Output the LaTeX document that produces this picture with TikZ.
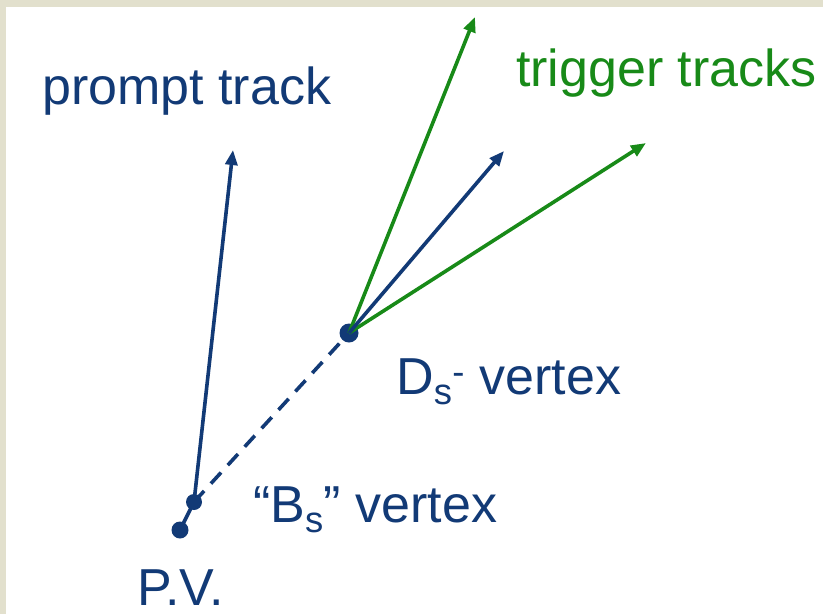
\documentclass[tikz,border=0pt]{standalone}
\usepackage{fontspec}
\setmainfont{Liberation Sans}
\usepackage{xcolor}
\usetikzlibrary{arrows.meta,positioning}
\definecolor{trackblue}{RGB}{18,58,118}
\definecolor{trackgreen}{RGB}{24,138,24}
\definecolor{framebg}{RGB}{226,224,205}

\tikzset{
  vtx/.style={circle,fill=trackblue,inner sep=0pt,minimum size=#1},
  trk/.style={line width=3.6pt,-{Triangle[length=15pt,width=12pt]}},
  lbl/.style={font=\fontsize{52}{60}\selectfont,inner sep=0pt,anchor=base west}
}

\begin{document}
\begin{tikzpicture}[x=1pt,y=-1pt]
  % frame
  \fill[framebg] (0,0) rectangle (823,614);
  \fill[white] (6,7) rectangle (823,614);
  \useasboundingbox (0,0) rectangle (823,614);
  % vertices
  \node[vtx=17pt] (pv) at (180,530) {};
  \node[vtx=16pt] (bs) at (194,502) {};
  \node[vtx=19pt] (ds) at (349,333) {};
  % track ends
  \coordinate (promptend) at (233,150);
  \coordinate (trigA) at (475,17);
  \coordinate (trigB) at (646,143);
  \coordinate (slowend) at (504,151);
  % tracks
  \draw[trackblue,line width=3.6pt] (pv.center) -- (bs.center);
  \draw[trackblue,line width=3.6pt,dash pattern=on 15pt off 10pt] (bs.center) -- (ds.center);
  \draw[trk,trackblue] (bs.center) -- (promptend);
  \draw[trk,trackgreen] (ds.center) -- (trigA);
  \draw[trk,trackgreen] (ds.center) -- (trigB);
  \draw[trk,trackblue] (ds.center) -- (slowend);
  % labels
  \node[lbl,text=trackblue] (prompttxt) at (42,104) {prompt track};
  \node[lbl,text=trackgreen] (trigtxt) at (516,86) {trigger tracks};
  \node[lbl,text=trackblue] (dstxt) at (396,394) {D\textsubscript{s}\textsuperscript{-} vertex};
  \node[lbl,text=trackblue] (bstxt) at (253,522) {“B\textsubscript{s}” vertex};
  \node[lbl,text=trackblue] (pvtxt) at (137,605) {P.V.};
\end{tikzpicture}
\end{document}
